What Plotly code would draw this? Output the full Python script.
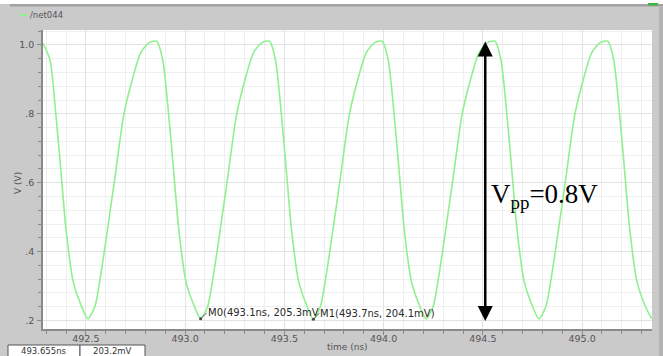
import plotly.graph_objects as go

# waveform samples (time in ns, voltage in V)
time_ns = [
    492.284, 492.319, 492.349, 492.374, 492.399, 492.435, 492.475, 492.510,
    492.545, 492.575, 492.605, 492.646, 492.691, 492.736, 492.776, 492.817, 492.857,
    492.887, 492.917, 492.942, 492.967, 493.003, 493.043, 493.078,
    493.113, 493.143, 493.173, 493.214, 493.259, 493.304, 493.344, 493.385, 493.425,
    493.455, 493.485, 493.510, 493.535, 493.571, 493.611, 493.646,
    493.681, 493.711, 493.741, 493.782, 493.827, 493.872, 493.912, 493.953, 493.993,
    494.023, 494.053, 494.078, 494.103, 494.139, 494.179, 494.214,
    494.249, 494.279, 494.309, 494.350, 494.395, 494.440, 494.480, 494.521, 494.561,
    494.591, 494.621, 494.646, 494.671, 494.707, 494.747, 494.782,
    494.817, 494.847, 494.877, 494.918, 494.963, 495.008, 495.048, 495.089, 495.129,
    495.159, 495.189, 495.214, 495.239, 495.275, 495.315, 495.350,
]
volts = [
    1.005, 0.957, 0.798, 0.635, 0.470, 0.316, 0.246, 0.205,
    0.240, 0.333, 0.449, 0.614, 0.797, 0.904, 0.977, 1.006, 1.011,
    0.957, 0.798, 0.635, 0.470, 0.316, 0.246, 0.205,
    0.240, 0.333, 0.449, 0.614, 0.797, 0.904, 0.977, 1.006, 1.011,
    0.957, 0.798, 0.635, 0.470, 0.316, 0.246, 0.204,
    0.240, 0.333, 0.449, 0.614, 0.797, 0.904, 0.977, 1.006, 1.011,
    0.957, 0.798, 0.635, 0.470, 0.316, 0.246, 0.205,
    0.240, 0.333, 0.449, 0.614, 0.797, 0.904, 0.977, 1.006, 1.011,
    0.957, 0.798, 0.635, 0.470, 0.316, 0.246, 0.205,
    0.240, 0.333, 0.449, 0.614, 0.797, 0.904, 0.977, 1.006, 1.011,
    0.957, 0.798, 0.635, 0.470, 0.316, 0.246, 0.205,
]

y_tickvals = [0.2, 0.4, 0.6, 0.8, 1.0]
y_ticktext = [".2", ".4", ".6", ".8", "1.0"]
x_tickvals = [492.5, 493.0, 493.5, 494.0, 494.5, 495.0]
x_ticktext = ["492.5", "493.0", "493.5", "494.0", "494.5", "495.0"]

marker_t = [493.078, 493.646]
marker_v = [0.205, 0.204]
marker_labels = ["M0(493.1ns, 205.3mV", "M1(493.7ns, 204.1mV)"]

vpp_time = 494.512
vpp_top = 1.010
vpp_bottom = 0.194

readout_time = "493.655ns"
readout_volt = "203.2mV"

FONT = "DejaVu Sans"
GRAY = "#555555"

ML, MR, MT, MB = 43, 11, 30, 27
W, H = 663.0, 356.0
PW, PH = W - ML - MR, H - MT - MB

def px(x):
    return (x - ML) / PW

def py(y):
    return (H - MB - y) / PH

fig = go.Figure()
fig.add_trace(go.Scatter(
    x=time_ns, y=volts, mode="lines",
    line=dict(color="#8ff08f", width=1.6, shape="spline", smoothing=0.7),
    hoverinfo="skip", showlegend=False,
))
fig.add_trace(go.Scatter(
    x=marker_t, y=marker_v, mode="markers",
    marker=dict(color="#444444", size=3),
    hoverinfo="skip", showlegend=False,
))

fig.update_layout(
    width=663, height=356,
    margin=dict(l=ML, r=MR, t=MT, b=MB, autoexpand=False),
    paper_bgcolor="#cacaca",
    plot_bgcolor="#ffffff",
    font=dict(family=FONT, size=9.5, color=GRAY),
    showlegend=False,
)
fig.update_xaxes(
    range=[492.284, 495.352], automargin=False,
    tickvals=x_tickvals, ticktext=x_ticktext,
    ticks="outside", ticklen=4, tickcolor="#8a8a8a",
    ticklabelstandoff=-4,
    showline=True, linecolor="#8a8a8a", linewidth=1.5,
    showgrid=True, gridcolor="#e2e2e2", gridwidth=1,
    minor=dict(tick0=492.5, dtick=0.1, ticks="outside", ticklen=3,
               tickcolor="#8a8a8a", showgrid=True, gridcolor="#efefef"),
    zeroline=False,
    tickfont=dict(family=FONT, size=9.5, color=GRAY),
)
fig.update_yaxes(
    range=[0.1754, 1.0435], automargin=False,
    tickvals=y_tickvals, ticktext=y_ticktext,
    ticks="outside", ticklen=4, tickcolor="#8a8a8a",
    ticklabelstandoff=1,
    showline=True, linecolor="#8a8a8a", linewidth=1.5,
    showgrid=True, gridcolor="#e2e2e2", gridwidth=1,
    minor=dict(tick0=0.2, dtick=0.04, ticks="outside", ticklen=3,
               tickcolor="#8a8a8a", showgrid=True, gridcolor="#efefef"),
    zeroline=False,
    tickfont=dict(family=FONT, size=9.5, color=GRAY),
)

# frame decorations (figure-pixel positions converted to paper coordinates)
fig.add_shape(type="rect", xref="paper", yref="paper",
              x0=px(0), x1=px(663), y0=py(0), y1=py(4),
              fillcolor="#ffffff", line_width=0, layer="below")
fig.add_shape(type="rect", xref="paper", yref="paper",
              x0=px(10), x1=px(663), y0=py(4), y1=py(6.5),
              fillcolor="#a2a2a2", line_width=0)
fig.add_shape(type="rect", xref="paper", yref="paper",
              x0=px(648), x1=px(658), y0=py(3), y1=py(5.5),
              fillcolor="#3cb83c", line_width=0)
fig.add_shape(type="rect", xref="paper", yref="paper",
              x0=px(659), x1=px(663), y0=py(6.5), y1=py(356),
              fillcolor="#b3b3b3", line_width=0)
# legend swatch
fig.add_shape(type="line", xref="paper", yref="paper",
              x0=px(20), x1=px(27), y0=py(15), y1=py(15),
              line=dict(color="#8ff08f", width=2))
fig.add_annotation(xref="paper", yref="paper", x=px(28), y=py(15),
                   text="/net044", showarrow=False, xanchor="left", yanchor="middle",
                   font=dict(family=FONT, size=8.5, color=GRAY))

# axis titles
fig.add_annotation(xref="paper", yref="paper", x=px(347), y=py(347),
                   text="time (ns)", showarrow=False, xanchor="center", yanchor="middle",
                   font=dict(family=FONT, size=9, color=GRAY))
fig.add_annotation(xref="paper", yref="paper", x=px(18), y=py(183),
                   text="V (V)", showarrow=False, textangle=-90,
                   xanchor="center", yanchor="middle",
                   font=dict(family=FONT, size=9, color=GRAY))

# marker labels
for t, v, lab in zip(marker_t, marker_v, marker_labels):
    fig.add_annotation(x=t, y=v, text=lab, showarrow=True, arrowhead=0,
                       arrowwidth=0.8, arrowcolor="#444444", ax=6, ay=-6,
                       xanchor="left", yanchor="middle", standoff=0,
                       font=dict(family=FONT, size=10, color="#2a2a2a"),
                       borderpad=0)

# Vpp double arrow
fig.add_annotation(x=vpp_time, y=vpp_top, ax=vpp_time, ay=vpp_bottom,
                   xref="x", yref="y", axref="x", ayref="y",
                   text="", showarrow=True, arrowside="end+start",
                   arrowhead=2, startarrowhead=2, arrowsize=1.2, startarrowsize=1.2,
                   arrowwidth=2.5, arrowcolor="#000000")
fig.add_annotation(xref="paper", yref="paper", x=px(489), y=py(196),
                   text="V<sub>pp</sub>=0.8V", showarrow=False,
                   xanchor="left", yanchor="middle",
                   font=dict(family="Liberation Serif", size=27, color="#000000"))

# readout boxes
fig.add_shape(type="rect", xref="paper", yref="paper",
              x0=px(8), x1=px(80), y0=py(345), y1=py(357),
              fillcolor="#ffffff", line=dict(color="#555555", width=1))
fig.add_shape(type="rect", xref="paper", yref="paper",
              x0=px(80), x1=px(145), y0=py(345), y1=py(357),
              fillcolor="#ffffff", line=dict(color="#555555", width=1))
fig.add_annotation(xref="paper", yref="paper", x=px(44), y=py(350.5),
                   text=readout_time, showarrow=False, xanchor="center", yanchor="middle",
                   font=dict(family=FONT, size=8.5, color="#333333"))
fig.add_annotation(xref="paper", yref="paper", x=px(112), y=py(350.5),
                   text=readout_volt, showarrow=False, xanchor="center", yanchor="middle",
                   font=dict(family=FONT, size=8.5, color="#333333"))

fig.write_html(
    "out.html",
    config={"displayModeBar": False},
    post_script="document.body.style.margin='0';document.body.style.overflow='hidden';",
)
